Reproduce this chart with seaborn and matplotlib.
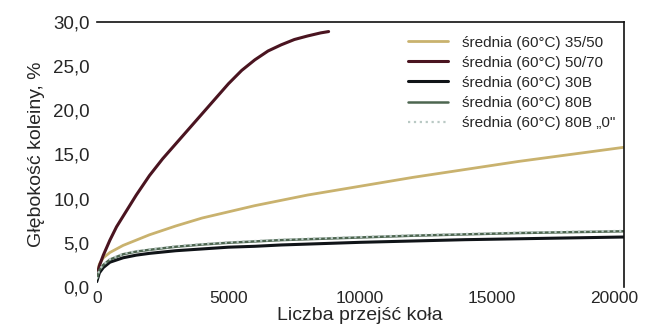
import matplotlib
matplotlib.use("Agg")
import matplotlib.pyplot as plt
import matplotlib.transforms as mtransforms
import seaborn as sns
import pandas as pd

sns.set_style("white")
plt.rcParams['font.family'] = ['Liberation Sans', 'DejaVu Sans']

x_common = [0, 100, 250, 500, 1000, 1500, 2000, 3000, 4000, 5000, 6000, 7000,
            8000, 9000, 10000, 12000, 14000, 16000, 18000, 20000]

x_5070 = [0, 100, 250, 500, 750, 1000, 1500, 2000, 2500, 3000, 3500, 4000,
          4500, 5000, 5500, 6000, 6500, 7000, 7500, 8000, 8500, 8800]
y_5070 = [1.2, 2.4, 3.6, 5.3, 6.8, 8.0, 10.4, 12.6, 14.5, 16.2, 17.9, 19.6,
          21.3, 23.0, 24.5, 25.7, 26.7, 27.4, 28.0, 28.4, 28.75, 28.9]

y_3550 = [1.3, 2.6, 3.3, 3.9, 4.7, 5.3, 5.9, 6.9, 7.8, 8.5, 9.2, 9.8,
          10.4, 10.9, 11.4, 12.4, 13.3, 14.2, 15.0, 15.8]
y_30B = [0.6, 1.6, 2.2, 2.8, 3.3, 3.6, 3.8, 4.1, 4.3, 4.5, 4.6, 4.75,
         4.85, 4.95, 5.05, 5.2, 5.35, 5.45, 5.55, 5.65]
y_80B = [0.9, 1.9, 2.5, 3.1, 3.7, 4.0, 4.2, 4.55, 4.8, 5.0, 5.15, 5.3,
         5.4, 5.5, 5.6, 5.8, 5.95, 6.1, 6.2, 6.3]
y_80B0 = [0.9, 1.95, 2.55, 3.15, 3.75, 4.05, 4.25, 4.6, 4.85, 5.05, 5.2, 5.35,
          5.45, 5.55, 5.65, 5.85, 6.0, 6.15, 6.25, 6.35]

labels = ['średnia (60°C) 35/50', 'średnia (60°C) 50/70', 'średnia (60°C) 30B',
          'średnia (60°C) 80B', 'średnia (60°C) 80B „0"']
xticks = [0, 5000, 10000, 15000, 20000]
yticks = [0, 5, 10, 15, 20, 25, 30]

fig = plt.figure(figsize=(6.45, 3.36), dpi=100)
ax = fig.add_axes([0.150, 0.146, 0.817, 0.789])

series = [
    (x_common, y_3550, labels[0], '#c9b26e', '-', 2.0),
    (x_5070, y_5070, labels[1], '#4a1420', '-', 2.2),
    (x_common, y_30B, labels[2], '#101418', '-', 2.2),
    (x_common, y_80B, labels[3], '#4d6650', '-', 1.8),
    (x_common, y_80B0, labels[4], '#b9c9c4', ':', 1.6),
]
for xs, ys, lab, col, ls, lw in series:
    df = pd.DataFrame({'x': xs, 'y': ys})
    sns.lineplot(data=df, x='x', y='y', ax=ax, color=col, linestyle=ls,
                 linewidth=lw, label=lab)

ax.set_xlim(0, 20000)
ax.set_ylim(0, 30)
ax.set_xticks(xticks)
ax.set_xticklabels([str(t) for t in xticks], fontsize=12.5)
ax.set_yticks(yticks)
ax.set_yticklabels([f"{t:.1f}".replace('.', ',') for t in yticks], fontsize=13.5)
ax.tick_params(length=0)
ax.tick_params(axis='y', pad=5)
ax.tick_params(axis='x', pad=3)
# shift the last x tick label left so it stays inside the figure
last = ax.get_xticklabels()[-1]
last.set_transform(last.get_transform() +
                   mtransforms.ScaledTranslation(-10 / 100, 0, fig.dpi_scale_trans))
ax.set_xlabel('Liczba przejść koła', fontsize=14, labelpad=1)
ax.set_ylabel('Głębokość koleiny, %', fontsize=14, labelpad=6)

for s in ['left', 'bottom']:
    ax.spines[s].set_visible(False)
for s in ['top', 'right']:
    ax.spines[s].set_visible(True)
    ax.spines[s].set_color('#111111')
    ax.spines[s].set_linewidth(1.2)

leg = ax.legend(loc='upper right', bbox_to_anchor=(1.01, 1.0), frameon=False,
                fontsize=11, handlelength=2.6, handletextpad=0.9,
                labelspacing=0.4)

fig.savefig('out.png', dpi=100)
